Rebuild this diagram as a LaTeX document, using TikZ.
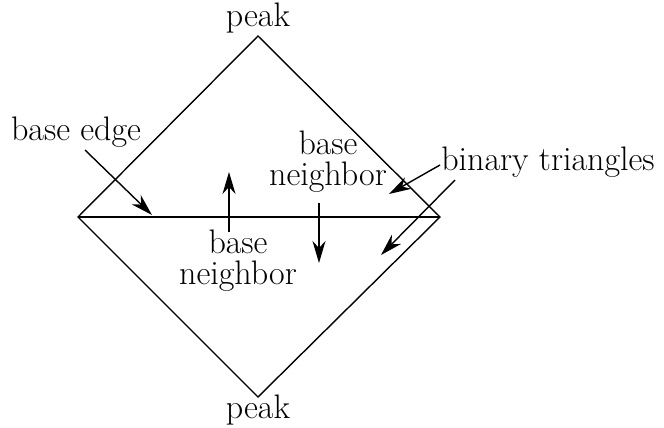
\documentclass[tikz,border=0pt]{standalone}
\usetikzlibrary{arrows.meta}
\begin{document}
\begin{tikzpicture}[x=0.5pt,y=-0.5pt,
  line width=0.7pt,
  lbl/.style={inner sep=0pt,align=center,font=\fontsize{17}{15.5}\selectfont},
  arr/.style={-{Stealth[length=11pt,width=6.5pt,inset=3.5pt]}}]
\useasboundingbox (0,0) rectangle (664,428);
\coordinate (L) at (78,217);
\coordinate (R) at (440,217);
\coordinate (T) at (258,36);
\coordinate (B) at (258,397);
\draw (L) -- (T) -- (R) -- (B) -- cycle;
\draw (L) -- (R);
\node[lbl] (ptop) at (258,18) {peak};
\node[lbl] (pbot) at (258,410) {peak};
\node[lbl] (be) at (76,132) {base edge};
\node[lbl] (bnl) at (238,261) {base\\neighbor};
\node[lbl] (bnu) at (328,162) {base\\neighbor};
\node[lbl] (bt) at (548,162) {binary triangles};
\coordinate (be0) at (85,150); \coordinate (be1) at (152,215);
\draw[arr] (be0) -- (be1);
\coordinate (u0) at (229,232); \coordinate (u1) at (229,172);
\draw[arr] (u0) -- (u1);
\coordinate (d0) at (319,203); \coordinate (d1) at (319,263);
\draw[arr] (d0) -- (d1);
\coordinate (t0) at (440,165); \coordinate (t1) at (389,194);
\draw[arr] (t0) -- (t1);
\coordinate (s0) at (455,180); \coordinate (s1) at (381,255);
\draw[arr] (s0) -- (s1);
\end{tikzpicture}
\end{document}
